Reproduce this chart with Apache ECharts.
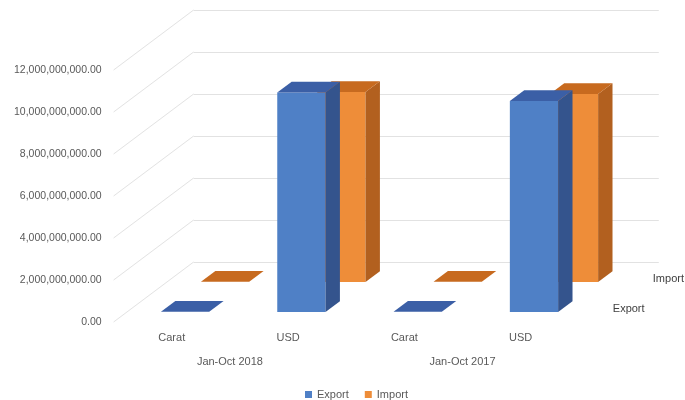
<!DOCTYPE html>
<html><head><meta charset="utf-8">
<script src="https://cdn.jsdelivr.net/npm/echarts@6/dist/echarts.min.js"></script>
<style>html,body{margin:0;padding:0;background:#fff}#c{width:685px;height:400px}</style>
</head><body><div id="c"></div>
<script>
// ---- data ----
const categories = ['Carat', 'USD', 'Carat', 'USD'];
const periods = ['Jan-Oct 2018', 'Jan-Oct 2017'];
const seriesNames = ['Export', 'Import'];
const exportValues = [14000000, 10450000000, 12000000, 10050000000];
const importValues = [11000000, 9050000000, 10000000, 8950000000];
const yTicks = [0, 2000000000, 4000000000, 6000000000, 8000000000, 10000000000, 12000000000];

// ---- style / geometry ----
const FONT = 'Liberation Sans';
const DEPTH = [80, -60];          // floor depth vector (front edge -> back wall)
const GRID_COLOR = '#e2e2e2';
const colors = {
  Export: { front: '#4f80c6', side: '#34548d', top: '#3b5fa6' },
  Import: { front: '#ee8d39', side: '#b2601f', top: '#c76a1f' }
};
function proj(x, y, d) { return [x + DEPTH[0] * d, y + DEPTH[1] * d]; }

function barRenderer(row, col) {
  return function (params, api) {
    const c = api.value(0), v = api.value(1);
    const band = api.size([1, 0])[0];
    const w = band * 0.415;
    const base = api.coord([c, 0]);
    const top = api.coord([c, v]);
    const x0 = base[0] - w / 2, x1 = base[0] + w / 2;
    const yb = base[1], yt = top[1];
    const df = row * 0.5 + 1 / 6, db = df + 0.18;
    const front = [proj(x0, yb, df), proj(x1, yb, df), proj(x1, yt, df), proj(x0, yt, df)];
    const side = [proj(x1, yb, df), proj(x1, yb, db), proj(x1, yt, db), proj(x1, yt, df)];
    const topF = [proj(x0, yt, df), proj(x1, yt, df), proj(x1, yt, db), proj(x0, yt, db)];
    const children = [];
    if (yb - yt > 0.8) {
      children.push({ type: 'polygon', shape: { points: front }, style: { fill: col.front } });
      children.push({ type: 'polygon', shape: { points: side }, style: { fill: col.side } });
    }
    children.push({ type: 'polygon', shape: { points: topF }, style: { fill: col.top } });
    return { type: 'group', children };
  };
}

const chart = echarts.init(document.getElementById('c'), null, { renderer: 'canvas' });
const fmt = v => Number(v).toLocaleString('en-US', { minimumFractionDigits: 2, maximumFractionDigits: 2 });

chart.setOption({
  animation: false,
  backgroundColor: '#ffffff',
  textStyle: { fontFamily: FONT },
  legend: {
    data: seriesNames,
    left: 300, top: 384,
    icon: 'rect', itemWidth: 7, itemHeight: 7, itemGap: 16,
    textStyle: { fontSize: 11, color: '#595959', fontFamily: FONT }
  },
  grid: [
    { left: 113.6, top: 70, width: 465.2, height: 252 },   // front plane
    { left: 193.6, top: 10, width: 465.2, height: 252 }    // back wall
  ],
  xAxis: [
    { type: 'category', gridIndex: 0, data: categories,
      axisLine: { show: false }, axisTick: { show: false },
      axisLabel: { margin: 10, fontSize: 11, color: '#595959', fontFamily: FONT } },
    { type: 'category', gridIndex: 0, data: periods, position: 'bottom', offset: 24,
      axisLine: { show: false }, axisTick: { show: false },
      axisLabel: { margin: 10, fontSize: 11, color: '#595959', fontFamily: FONT } },
    { type: 'category', gridIndex: 1, data: categories, show: false }
  ],
  yAxis: [
    { type: 'value', gridIndex: 0, min: 0, max: 12000000000, interval: 2000000000,
      axisLine: { show: false }, axisTick: { show: false }, splitLine: { show: false },
      axisLabel: { margin: 12, fontSize: 10.5, color: '#595959', fontFamily: FONT, formatter: fmt,
                   padding: [4, 0, 0, 0] } },
    { type: 'value', gridIndex: 1, min: 0, max: 12000000000, interval: 2000000000,
      axisLine: { show: false }, axisTick: { show: false }, axisLabel: { show: false },
      splitLine: { show: true, lineStyle: { color: GRID_COLOR, width: 1 } } }
  ],
  series: [
    { // side wall gridlines
      type: 'custom', name: 'sidewall', xAxisIndex: 0, yAxisIndex: 0, silent: true, z: 1,
      data: yTicks.map(v => [0, v]),
      renderItem: function (params, api) {
        const p = api.coord([api.value(0), api.value(1)]);
        const band = api.size([1, 0])[0];
        const x = p[0] - band / 2;
        const q = proj(x, p[1], 1);
        return { type: 'line', shape: { x1: x, y1: p[1], x2: q[0], y2: q[1] },
                 style: { stroke: GRID_COLOR, lineWidth: 1 } };
      }
    },
    { type: 'custom', name: 'Import', xAxisIndex: 0, yAxisIndex: 0, z: 2,
      itemStyle: { color: colors.Import.front },
      data: importValues.map((v, i) => [i, v]),
      renderItem: barRenderer(1, colors.Import) },
    { type: 'custom', name: 'Export', xAxisIndex: 0, yAxisIndex: 0, z: 3,
      itemStyle: { color: colors.Export.front },
      data: exportValues.map((v, i) => [i, v]),
      renderItem: barRenderer(0, colors.Export) },
    { // depth-axis labels
      type: 'custom', name: 'depthLabels', xAxisIndex: 0, yAxisIndex: 0, silent: true, z: 4,
      data: seriesNames.map((n, r) => [categories.length - 1, 0, r]),
      renderItem: function (params, api) {
        const p = api.coord([api.value(0), api.value(1)]);
        const band = api.size([1, 0])[0];
        const r = api.value(2);
        const q = proj(p[0] + band / 2, p[1], r * 0.5 + 0.25);
        return { type: 'text', style: { text: seriesNames[r], x: q[0] + 14, y: q[1] + 2,
                 fill: '#404040', fontSize: 11, fontFamily: FONT, align: 'left', verticalAlign: 'middle' } };
      }
    }
  ]
});
</script></body></html>
